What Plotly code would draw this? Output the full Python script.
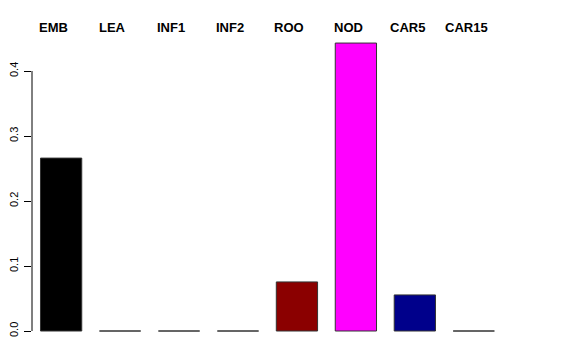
import plotly.graph_objects as go

categories = ["EMB", "LEA", "INF1", "INF2", "ROO", "NOD", "CAR5", "CAR15"]
values = [0.266, 0.0, 0.0, 0.0, 0.0755, 0.443, 0.0555, 0.0]
colors = ["#000000", "#FFFFFF", "#FFFFFF", "#FFFFFF", "#8B0000", "#FF00FF", "#00008B", "#FFFFFF"]
yticks = [0.0, 0.1, 0.2, 0.3, 0.4]
ytick_labels = ["0.0", "0.1", "0.2", "0.3", "0.4"]

W, H = 576, 360
px_per_cat = 59.3
first_center = 58.3
left_px = 29
right_px = 540
x0 = (left_px - first_center) / px_per_cat
x1 = (right_px - first_center) / px_per_cat

zero_px = 331
px_per_unit = 650
top_px = 8
bot_px = 340
y_lo = -(bot_px - zero_px) / px_per_unit
y_hi = (zero_px - top_px) / px_per_unit

xs = list(range(len(categories)))

fig = go.Figure()
fig.add_trace(go.Bar(
    x=xs, y=values,
    width=0.70,
    marker=dict(color=colors, line=dict(color="#333333", width=1)),
    hoverinfo="skip",
))

for i, c in enumerate(categories):
    fig.add_annotation(x=i - 0.13, y=1, yref="paper", xref="x",
                       text="<b>%s</b>" % c, showarrow=False,
                       yanchor="middle", yshift=-(27 - top_px),
                       font=dict(family="Liberation Sans, Arial", size=13, color="black"))

fig.add_shape(type="line", xref="paper", yref="y", x0=0, x1=0,
              y0=yticks[0], y1=yticks[-1], line=dict(color="black", width=1))

fig.update_layout(
    width=W, height=H,
    margin=dict(l=left_px, r=W - right_px, t=top_px, b=H - bot_px),
    paper_bgcolor="white", plot_bgcolor="white",
    showlegend=False,
    xaxis=dict(range=[x0, x1], showgrid=False, zeroline=False, showline=False,
               showticklabels=False, ticks=""),
    yaxis=dict(range=[y_lo, y_hi], showgrid=False, zeroline=False, showline=False,
               tickmode="array", tickvals=yticks, ticktext=ytick_labels,
               ticks="outside", ticklen=7, tickcolor="black", tickwidth=1,
               tickangle=-90, ticklabelstandoff=2,
               tickfont=dict(family="Liberation Sans, Arial", size=11, color="black")),
)

fig.write_html("out.html")
